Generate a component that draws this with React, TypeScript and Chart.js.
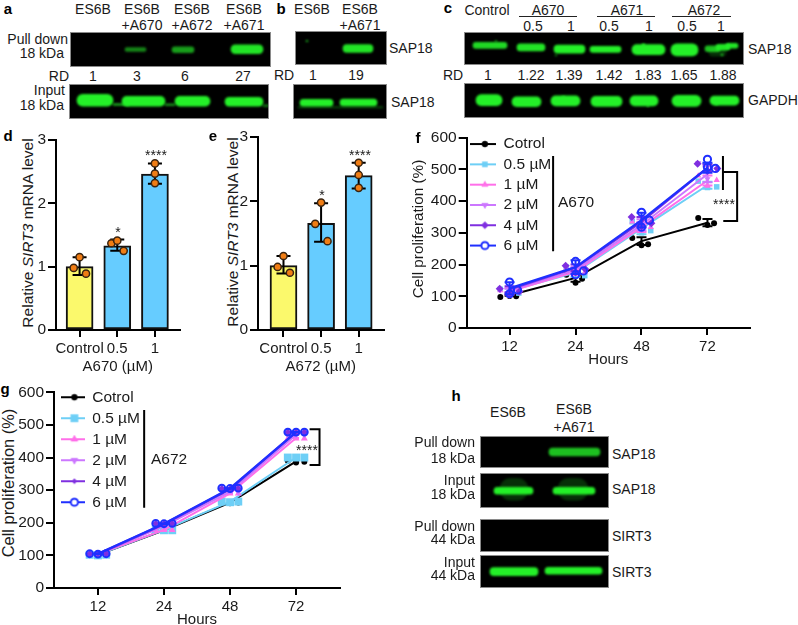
import React, { useEffect, useRef } from "react";
import { Chart, registerables } from "chart.js";
import { drawPoint } from "chart.js/helpers";

Chart.register(...registerables);
const FONT = "'Liberation Sans', Arial, sans-serif";
Chart.defaults.font.family = FONT;
Chart.defaults.color = "#1a1a1a";

// ---------- DATA ----------
const barLabels = ["Control", "0.5", "1"];
const dMeans = [1, 1.33, 2.46];
const dHigh = [1.15, 1.43, 2.63];
const dLow = [0.87, 1.25, 2.31];
const dReplicates = [[0.98, 1.15, 0.89], [1.37, 1.41, 1.25], [2.47, 2.63, 2.32]];
const eMeans = [1, 1.66, 2.4];
const eHigh = [1.15, 1.97, 2.6];
const eLow = [0.88, 1.37, 2.2];
const eReplicates = [[0.98, 1.15, 0.89], [1.65, 1.98, 1.38], [2.41, 2.6, 2.21]];
const dEJitter = [[-0.156, 0, 0.17], [-0.156, 0, 0.17], [0, 0, 0]];

const hours = ["12", "24", "48", "72"];
const seriesNames = ["Cotrol", "0.5 µM", "1 µM", "2 µM", "4 µM", "6 µM"];

const fMeans = [
  [103, 158, 274, 332],
  [117, 175, 314, 450],
  [115, 178, 318, 465],
  [118, 183, 325, 485],
  [122, 190, 335, 505],
  [125, 192, 340, 505],
];
const fReplicates = [
  [[98, 101, 100], [168, 143, 155], [284, 261, 264], [347, 325, 330]],
  [[122, 112, 110], [192, 172, 165], [335, 300, 307], [463, 443, 445]],
  [[118, 100, 112], [190, 170, 175], [335, 305, 318], [480, 448, 466]],
  [[120, 105, 115], [192, 172, 183], [345, 310, 325], [520, 470, 500]],
  [[124, 105, 115], [196, 175, 185], [350, 320, 330], [518, 495, 503]],
  [[145, 108, 120], [210, 168, 180], [365, 318, 340], [532, 507, 503]],
];
const fJitter = [
  [-0.14, 0, 0.1],
  [-0.14, 0, 0.14],
  [-0.14, 0, 0.14],
  [-0.14, 0, 0.14],
  [-0.15, 0, 0.15],
  [0, 0, 0.12],
];

const gMeans = [
  [102, 177, 262, 388],
  [102, 178, 265, 400],
  [104, 178, 290, 460],
  [103, 190, 295, 470],
  [104, 196, 303, 478],
  [105, 197, 305, 478],
];
const gReplicates = [
  [[103, 103, 101], [178, 176, 175], [263, 260, 262], [390, 385, 387]],
  [[102, 100, 102], [180, 177, 177], [265, 263, 265], [400, 400, 400]],
  [[103, 103, 104], [178, 178, 178], [290, 290, 290], [458, 458, 458]],
  [[104, 104, 104], [195, 190, 195], [295, 300, 295], [470, 470, 470]],
  [[105, 105, 105], [198, 197, 197], [305, 304, 305], [478, 478, 478]],
  [[105, 104, 105], [198, 197, 198], [306, 305, 306], [478, 478, 478]],
];
const gJitter = [-0.125, 0, 0.125];

// western-blot bands: [start, end, centre row, thickness, intensity] in gel units
const bandsA1 = [[55, 76, 17.5, 4, 0.55], [102, 124, 18, 6, 0.65], [161, 193, 17, 9, 0.95]];
const bandsA2 = [[8, 44, 15, 12, 1], [53, 96, 17, 10, 1], [106, 141, 17, 10, 1], [156, 194, 18, 9, 1], [44, 60, 23.5, 2, 0.7], [96, 106, 24, 2, 0.6], [194, 200, 26, 2, 0.5]];
const bandsB1 = [[48, 78, 18, 8, 0.95], [11, 13, 3, 1.5, 0.7]];
const bandsB2 = [[7, 40, 20, 7, 1], [47, 84, 19.5, 7, 1], [5, 90, 29, 2, 0.25]];
const bandsC1 = [[9, 43, 10.3, 6, 0.9], [53, 81, 14.3, 7, 0.95], [90, 121, 17.7, 8, 1], [126, 157, 18.3, 6, 1], [168, 201, 18.7, 10, 1], [207, 234, 19.3, 12, 1], [245, 262, 24, 8, 0.2], [241, 256, 17, 6, 0.8], [252, 266, 14, 6, 0.95], [262, 274, 11, 5, 0.95], [31, 33, 2, 1.5, 0.6], [91, 93, 30, 1.5, 0.5], [178, 181, 10, 3, 0.9], [257, 259, 29, 2, 0.7]];
const bandsC2 = [[12, 38, 16.7, 11, 1], [48, 77, 20, 10, 1], [87, 116, 18.3, 10, 1], [127, 158, 19.3, 10, 1], [166, 194, 18.3, 10, 1], [208, 237, 18.3, 11, 1], [246, 275, 17.7, 9, 1], [98, 101, 11, 1.5, 0.8], [183, 185, 28, 1.5, 0.8], [251, 254, 24, 2, 0.8]];
const bandsH1 = [[69, 120, 16, 8, 0.8]];
const bandsH2 = [[20, 48, 15, 22, 0.2], [78, 108, 15, 22, 0.2], [14, 53, 18, 7, 1], [73, 115, 18, 7, 1]];
const bandsH3: number[][] = [];
const bandsH4 = [[10, 58, 16.7, 8, 1], [65, 122, 15, 7, 1]];

// ---------- STYLE ----------
const seriesColors = ["#000000", "#6ecff6", "#ff6fe9", "#cc77ff", "#7f2fe0", "#1f2fff"];
const seriesStyles = ["circle", "rect", "triangle", "triangle", "rectRot", "circle"];
const seriesRotation = [0, 0, 0, 180, 0, 0];
const GREEN = "36,240,40";

function legendIcon(i: number, w: number, radii: number[]) {
  const c = document.createElement("canvas");
  c.width = w;
  c.height = 14;
  const ctx = c.getContext("2d")!;
  ctx.strokeStyle = seriesColors[i];
  ctx.lineWidth = 2;
  ctx.beginPath();
  ctx.moveTo(0, 7);
  ctx.lineTo(w, 7);
  ctx.stroke();
  ctx.fillStyle = i === 5 ? "#ffffff" : seriesColors[i];
  ctx.lineWidth = i === 5 ? 2 : 0.5;
  drawPoint(ctx, { pointStyle: seriesStyles[i], radius: radii[i], rotation: seriesRotation[i], borderWidth: ctx.lineWidth }, w * 0.58, 7);
  return c;
}

function sd(v: number[]) {
  const m = v.reduce((a, b) => a + b, 0) / v.length;
  return Math.sqrt(v.reduce((a, b) => a + (b - m) * (b - m), 0) / (v.length - 1));
}

type Err = { x: number; lo: number; hi: number; color: string; cap: number };
type Seg = [number, number, number, number];

function marksPlugin(errs: Record<number, Err[]>, segs: Seg[]) {
  return {
    id: "marks",
    afterDatasetDraw(chart: any, args: any) {
      const list = errs[args.index];
      if (!list) return;
      const { ctx, scales } = chart;
      ctx.save();
      ctx.lineWidth = 2;
      for (const e of list) {
        const x = scales.x.getPixelForValue(e.x);
        const y0 = scales.y.getPixelForValue(e.lo);
        const y1 = scales.y.getPixelForValue(e.hi);
        ctx.strokeStyle = e.color;
        ctx.beginPath();
        ctx.moveTo(x, y0);
        ctx.lineTo(x, y1);
        ctx.moveTo(x - e.cap, y0);
        ctx.lineTo(x + e.cap, y0);
        ctx.moveTo(x - e.cap, y1);
        ctx.lineTo(x + e.cap, y1);
        ctx.stroke();
      }
      ctx.restore();
    },
    afterDatasetsDraw(chart: any) {
      const { ctx, scales } = chart;
      ctx.save();
      ctx.strokeStyle = "#000";
      ctx.lineWidth = 2;
      ctx.lineCap = "square";
      ctx.beginPath();
      for (const s of segs) {
        ctx.moveTo(scales.x.getPixelForValue(s[0]), scales.y.getPixelForValue(s[1]));
        ctx.lineTo(scales.x.getPixelForValue(s[2]), scales.y.getPixelForValue(s[3]));
      }
      ctx.stroke();
      ctx.restore();
    },
  };
}

type Frame = { left: number; top: number; L: number; T: number; R: number; B: number; xH: number };

function frameSize(f: Frame) {
  return { width: Math.ceil(f.R) + 3 - f.left, height: Math.ceil(f.B + f.xH) - f.top };
}

function axes(f: Frame, labels: string[], xMin: number, xMax: number, yMax: number, yStep: number, xTitle: string) {
  return {
    x: {
      type: "linear",
      offset: false,
      min: xMin,
      max: xMax,
      border: { color: "#000", width: 2 },
      grid: { offset: false, drawOnChartArea: false, color: "#000", lineWidth: 2, tickLength: 7 },
      ticks: {
        stepSize: 1,
        includeBounds: false,
        autoSkip: false,
        maxRotation: 0,
        padding: 3,
        color: "#1a1a1a",
        font: { size: 15 },
        callback: (v: number) => labels[v] ?? "",
      },
      title: { display: true, text: xTitle, color: "#1a1a1a", font: { size: 15, lineHeight: 1 }, padding: 0 },
      afterFit: (s: any) => { s.height = f.xH; },
    },
    y: {
      min: 0,
      max: yMax,
      border: { color: "#000", width: 2 },
      grid: { drawOnChartArea: false, color: "#000", lineWidth: 2, tickLength: 8 },
      ticks: { stepSize: yStep, padding: 2, color: "#1a1a1a", font: { size: 15.5 } },
      afterFit: (s: any) => { s.width = f.L - f.left; },
    },
  };
}

function padding(f: Frame) {
  const { width } = frameSize(f);
  return { top: f.T - f.top, right: width - (f.R - f.left), left: 0, bottom: 0 };
}

function barConfig(f: Frame, means: number[], lo: number[], hi: number[], reps: number[][], xMin: number, xMax: number, xTitle: string) {
  const errs: Err[] = means.map((_, i) => ({ x: i, lo: lo[i], hi: hi[i], color: "#000", cap: 7 }));
  const points: { x: number; y: number }[] = [];
  reps.forEach((r, i) => r.forEach((v, j) => points.push({ x: i + dEJitter[i][j], y: v })));
  return {
    type: "bar",
    data: {
      datasets: [
        {
          type: "bar",
          order: 2,
          data: means.map((v, i) => ({ x: i, y: v })),
          backgroundColor: ["#fbf96c", "#66ccff", "#66ccff"],
          borderColor: "#111",
          borderWidth: 2,
          borderSkipped: false,
          barThickness: 27,
        },
        {
          type: "scatter",
          order: 1,
          data: points,
          pointRadius: 3.6,
          pointBackgroundColor: "#f07d14",
          pointBorderColor: "#3a2410",
          pointBorderWidth: 1.5,
        },
      ],
    },
    options: {
      responsive: false,
      animation: false,
      layout: { padding: padding(f) },
      plugins: { legend: { display: false }, tooltip: { enabled: false } },
      scales: axes(f, barLabels, xMin, xMax, 3, 1, xTitle),
    },
    plugins: [marksPlugin({ 0: errs }, [])],
  };
}

function lineConfig(f: Frame, means: number[][], reps: number[][][], jitter: (s: number, j: number) => number, xMin: number, xMax: number, radii: number[], iconRadii: number[], iconW: number, rowPad: number, legendDX: number, legendDY: number, cap: number, segs: Seg[]) {
  const datasets: any[] = [];
  const errs: Record<number, Err[]> = {};
  means.forEach((m, s) => {
    errs[datasets.length] = m.map((v, t) => {
      const e = sd(reps[s][t]);
      return { x: t, lo: v - e, hi: v + e, color: seriesColors[s], cap };
    });
    datasets.push({
      type: "line",
      order: 100 - 2 * s,
      data: m.map((v, t) => ({ x: t, y: v })),
      borderColor: seriesColors[s],
      borderWidth: s >= 4 ? 2.4 : 2,
      pointRadius: 0,
      tension: 0,
    });
    const pts: { x: number; y: number }[] = [];
    reps[s].forEach((r, t) => r.forEach((v, j) => pts.push({ x: t + jitter(s, j), y: v })));
    datasets.push({
      type: "scatter",
      order: 99 - 2 * s,
      data: pts,
      pointStyle: seriesStyles[s],
      pointRotation: seriesRotation[s],
      pointRadius: radii[s],
      pointBackgroundColor: s === 5 ? "rgba(0,0,0,0)" : seriesColors[s],
      pointBorderColor: seriesColors[s],
      pointBorderWidth: s === 5 ? 2 : 0,
      clip: false,
    });
  });
  return {
    type: "line",
    data: { datasets },
    options: {
      responsive: false,
      animation: false,
      layout: { padding: padding(f) },
      plugins: {
        tooltip: { enabled: false },
        legend: {
          display: true,
          position: "chartArea",
          align: "start",
          labels: {
            usePointStyle: true,
            pointStyleWidth: iconW,
            padding: rowPad,
            color: "#1a1a1a",
            font: { size: 15.5 },
            generateLabels: () =>
              seriesNames.map((n, i) => ({
                text: n,
                pointStyle: legendIcon(i, iconW, iconRadii),
                fontColor: "#1a1a1a",
                hidden: false,
                lineWidth: 0,
                datasetIndex: 0,
              })),
          },
        },
      },
      scales: axes(f, hours, xMin, xMax, 600, 100, "Hours"),
    },
    plugins: [
      marksPlugin(errs, segs),
      {
        id: "legendShift",
        afterLayout(chart: any) {
          chart.legend.left += legendDX;
          chart.legend.top += legendDY;
        },
      },
    ],
  };
}

function blotConfig(w: number, h: number, bands: number[][]) {
  return {
    type: "bar",
    data: {
      datasets: bands.map((b) => ({
        data: [{ x: [b[0], b[1]], y: b[2] }],
        barThickness: b[3],
        grouped: false,
        backgroundColor: `rgba(${GREEN},${b[4]})`,
        borderWidth: 0,
        borderRadius: b[3] / 2,
        borderSkipped: false,
      })),
    },
    options: {
      indexAxis: "y",
      responsive: false,
      animation: false,
      layout: { padding: 0 },
      plugins: { legend: { display: false }, tooltip: { enabled: false } },
      scales: {
        x: { type: "linear", display: false, min: 0, max: w },
        y: { type: "linear", display: false, min: 0, max: h, reverse: true },
      },
    },
    plugins: [
      {
        id: "gel",
        beforeDraw(chart: any) {
          const { ctx, width, height } = chart;
          ctx.save();
          ctx.fillStyle = "#000";
          ctx.fillRect(0, 0, width, height);
          ctx.restore();
        },
        beforeDatasetsDraw(chart: any) {
          chart.ctx.save();
          chart.ctx.filter = "blur(1px)";
        },
        afterDatasetsDraw(chart: any) {
          chart.ctx.restore();
          const { ctx, width, height } = chart;
          ctx.save();
          ctx.strokeStyle = "#8a8a8a";
          ctx.lineWidth = 1;
          ctx.strokeRect(0.5, 0.5, width - 1, height - 1);
          ctx.restore();
        },
      },
    ],
  };
}

function Plot({ left, top, width, height, make }: { left: number; top: number; width: number; height: number; make: () => any }) {
  const ref = useRef<HTMLCanvasElement>(null);
  useEffect(() => {
    const chart = new Chart(ref.current!, make());
    return () => chart.destroy();
  }, []);
  return <canvas ref={ref} width={width} height={height} style={{ position: "absolute", left, top, width, height, display: "block" }} />;
}

function T({ x, y, t, a = "c", s = 14, b = false }: { x: number; y: number; t: React.ReactNode; a?: string; s?: number; b?: boolean }) {
  const tx = a === "c" ? "-50%" : a === "r" ? "-100%" : "0";
  return (
    <div style={{ position: "absolute", left: x, top: y, transform: `translate(${tx},-50%)`, fontSize: s, fontWeight: b ? 700 : 400, lineHeight: 1, whiteSpace: "nowrap", color: b ? "#000" : "#1a1a1a" }}>
      {t}
    </div>
  );
}

function Rule({ x0, x1, y }: { x0: number; x1: number; y: number }) {
  return <div style={{ position: "absolute", left: x0, top: y, width: x1 - x0, height: 1, background: "#222" }} />;
}

function YTitle({ x, y, s = 15.5, children }: { x: number; y: number; s?: number; children: React.ReactNode }) {
  return (
    <div style={{ position: "absolute", left: x, top: y, transform: "translate(-50%,-50%) rotate(-90deg)", fontSize: s, lineHeight: 1, whiteSpace: "nowrap", color: "#1a1a1a" }}>
      {children}
    </div>
  );
}

function Gel({ left, top, w, h, bands }: { left: number; top: number; w: number; h: number; bands: number[][] }) {
  return <Plot left={left} top={top} width={w} height={h} make={() => blotConfig(w, h, bands)} />;
}

const frameD: Frame = { left: 26, top: 128, L: 56, T: 140, R: 181.7, B: 329.3, xH: 44 };
const frameE: Frame = { left: 228, top: 125, L: 258, T: 137, R: 386, B: 329.3, xH: 44 };
const frameF: Frame = { left: 400, top: 125, L: 466.7, T: 137.7, R: 753, B: 327.7, xH: 39 };
const frameG: Frame = { left: 0, top: 380, L: 54, T: 392.3, R: 342.7, B: 587.7, xH: 39 };

const segsF: Seg[] = [
  [0.66, 539, 0.66, 245],
  [3.235, 539, 3.235, 438],
  [3.235, 492, 3.45, 492],
  [3.45, 492, 3.45, 337],
  [3.45, 337, 3.255, 337],
];
const segsG: Seg[] = [
  [0.7, 543, 0.7, 249],
  [3.22, 487, 3.355, 487],
  [3.355, 487, 3.355, 377],
  [3.355, 377, 3.22, 377],
];

export default function App() {
  return (
    <div style={{ position: "fixed", left: 0, top: 0, width: 798, height: 625, overflow: "hidden", background: "#fff", fontFamily: FONT }}>
      {/* panel a */}
      <T x={8} y={8} t="a" s={15} b />
      <T x={93} y={8.5} t="ES6B" />
      <T x={142} y={8.5} t="ES6B" />
      <T x={142} y={25} t="+A670" />
      <T x={192} y={8.5} t="ES6B" />
      <T x={192} y={25} t="+A672" />
      <T x={244} y={8.5} t="ES6B" />
      <T x={244} y={25} t="+A671" />
      <T x={68} y={39} t="Pull down" a="r" />
      <T x={64} y={53} t="18 kDa" a="r" />
      <T x={65} y={90} t="Input" a="r" />
      <T x={64} y={105} t="18 kDa" a="r" />
      <T x={69} y={75.5} t="RD" a="r" />
      <T x={93} y={75.5} t="1" />
      <T x={137} y={75.5} t="3" />
      <T x={185} y={75.5} t="6" />
      <T x={243} y={75.5} t="27" />
      <Gel left={70} top={32} w={201} h={35} bands={bandsA1} />
      <Gel left={69} top={84} w={200} h={35} bands={bandsA2} />

      {/* panel b */}
      <T x={281} y={8} t="b" s={15} b />
      <T x={312} y={8.5} t="ES6B" />
      <T x={360} y={8.5} t="ES6B" />
      <T x={360} y={25} t="+A671" />
      <T x={284} y={74.5} t="RD" />
      <T x={313} y={74.5} t="1" />
      <T x={356} y={74.5} t="19" />
      <T x={389} y={48} t="SAP18" a="l" />
      <T x={391} y={102} t="SAP18" a="l" />
      <Gel left={295} top={31} w={92} h={34} bands={bandsB1} />
      <Gel left={293} top={84} w={94} h={35} bands={bandsB2} />

      {/* panel c */}
      <T x={448} y={7} t="c" s={15} b />
      <T x={487} y={9.5} t="Control" />
      <T x={548} y={10} t="A670" />
      <T x={627} y={10} t="A671" />
      <T x={704} y={10} t="A672" />
      <Rule x0={519} x1={577} y={16} />
      <Rule x0={597} x1={655} y={16} />
      <Rule x0={672} x1={731} y={16} />
      <T x={533} y={26} t="0.5" />
      <T x={571} y={26} t="1" />
      <T x={609} y={26} t="0.5" />
      <T x={649} y={26} t="1" />
      <T x={687} y={26} t="0.5" />
      <T x={721} y={26} t="1" />
      <T x={453} y={74.5} t="RD" />
      <T x={488} y={74.5} t="1" />
      <T x={531} y={74.5} t="1.22" />
      <T x={569} y={74.5} t="1.39" />
      <T x={609} y={74.5} t="1.42" />
      <T x={648} y={74.5} t="1.83" />
      <T x={684} y={74.5} t="1.65" />
      <T x={723} y={74.5} t="1.88" />
      <T x={748} y={49} t="SAP18" a="l" />
      <T x={748} y={100} t="GAPDH" a="l" />
      <Gel left={464} top={32} w={280} h={33} bands={bandsC1} />
      <Gel left={464} top={83} w={280} h={35} bands={bandsC2} />

      {/* panel d */}
      <T x={8} y={135} t="d" s={15} b />
      <YTitle x={28} y={233}>Relative <i>SIRT3</i> mRNA level</YTitle>
      <Plot {...frameSize(frameD)} left={frameD.left} top={frameD.top} make={() => barConfig(frameD, dMeans, dLow, dHigh, dReplicates, -0.626, 2.652, "A670 (µM)")} />
      <T x={118} y={232} t="*" s={14} />
      <T x={156} y={155} t="****" s={14} />

      {/* panel e */}
      <T x={213} y={135} t="e" s={15} b />
      <YTitle x={232.5} y={232}>Relative <i>SIRT3</i> mRNA level</YTitle>
      <Plot {...frameSize(frameE)} left={frameE.left} top={frameE.top} make={() => barConfig(frameE, eMeans, eLow, eHigh, eReplicates, -0.678, 2.66, "A672 (µM)")} />
      <T x={322} y={195} t="*" s={14} />
      <T x={360} y={155} t="****" s={14} />

      {/* panel f */}
      <T x={418} y={137} t="f" s={15} b />
      <YTitle x={418} y={229} s={15.3}>Cell proliferation (%)</YTitle>
      <Plot {...frameSize(frameF)} left={frameF.left} top={frameF.top}
        make={() => lineConfig(frameF, fMeans, fReplicates, (s, j) => fJitter[s][j], -0.65, 3.645, [3, 3.9, 3.6, 3.6, 4, 3.6], [3, 3.6, 3.6, 3.6, 3.6, 3.6], 26, 4.8, -1.7, 6.5, 5, segsF)} />
      <T x={558} y={202} t="A670" s={15.5} a="l" />
      <T x={724} y={204} t="****" s={14} />

      {/* panel g */}
      <T x={5} y={388} t="g" s={15} b />
      <YTitle x={7.5} y={483} s={16.4}>Cell proliferation (%)</YTitle>
      <Plot {...frameSize(frameG)} left={frameG.left} top={frameG.top}
        make={() => lineConfig(frameG, gMeans, gReplicates, (_, j) => gJitter[j], -0.665, 3.665, [3, 5.6, 4, 4, 3.4, 3.4], [3, 5.2, 4, 4, 2.6, 3.6], 24, 5.5, 1, 4, 3, segsG)} />
      <T x={151} y={459} t="A672" s={15.5} a="l" />
      <T x={307} y={450} t="****" s={14} />

      {/* panel h */}
      <T x={456} y={395} t="h" s={15} b />
      <T x={508} y={412} t="ES6B" />
      <T x={574} y={409} t="ES6B" />
      <T x={574} y={427} t="+A671" />
      <T x={475} y={442} t="Pull down" a="r" />
      <T x={475} y={458} t="18 kDa" a="r" />
      <T x={475} y={480} t="Input" a="r" />
      <T x={475} y={494} t="18 kDa" a="r" />
      <T x={475} y={526} t="Pull down" a="r" />
      <T x={475} y={539} t="44 kDa" a="r" />
      <T x={475} y={562} t="Input" a="r" />
      <T x={475} y={575} t="44 kDa" a="r" />
      <T x={612} y={454} t="SAP18" a="l" />
      <T x={612} y={489} t="SAP18" a="l" />
      <T x={612} y={536} t="SIRT3" a="l" />
      <T x={612} y={572} t="SIRT3" a="l" />
      <Gel left={480} top={436} w={129} h={32} bands={bandsH1} />
      <Gel left={480} top={473} w={129} h={35} bands={bandsH2} />
      <Gel left={480} top={519} w={129} h={33} bands={bandsH3} />
      <Gel left={480} top={555} w={129} h={33} bands={bandsH4} />
    </div>
  );
}
